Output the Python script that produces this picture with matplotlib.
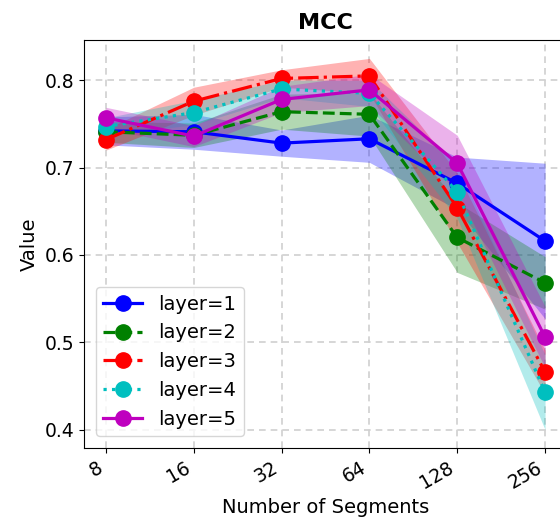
import matplotlib
matplotlib.use("Agg")
import matplotlib.pyplot as plt
import numpy as np

# Segment counts on the x axis
segments = ["8", "16", "32", "64", "128", "256"]

# Mean MCC per layer count
mcc_l1 = [0.742, 0.741, 0.728, 0.733, 0.682, 0.616]
mcc_l2 = [0.741, 0.737, 0.764, 0.761, 0.620, 0.568]
mcc_l3 = [0.732, 0.776, 0.802, 0.805, 0.654, 0.466]
mcc_l4 = [0.747, 0.763, 0.790, 0.785, 0.672, 0.443]
mcc_l5 = [0.757, 0.736, 0.778, 0.789, 0.705, 0.506]

# Spread around the mean (shaded band)
std_l1 = [0.016, 0.020, 0.015, 0.027, 0.030, 0.089]
std_l2 = [0.012, 0.014, 0.020, 0.025, 0.040, 0.030]
std_l3 = [0.012, 0.016, 0.010, 0.020, 0.040, 0.025]
std_l4 = [0.010, 0.014, 0.010, 0.015, 0.030, 0.043]
std_l5 = [0.012, 0.012, 0.015, 0.018, 0.032, 0.035]

series = [
    ("layer=1", mcc_l1, std_l1, "b", "-"),
    ("layer=2", mcc_l2, std_l2, "g", "--"),
    ("layer=3", mcc_l3, std_l3, "r", "-."),
    ("layer=4", mcc_l4, std_l4, "c", ":"),
    ("layer=5", mcc_l5, std_l5, "m", "-"),
]

fig = plt.figure(figsize=(5.6, 5.25), dpi=100)
ax = fig.add_axes([0.15, 0.1467, 0.8625, 0.777])

x = np.arange(len(segments))
for label, mean, std, color, ls in series:
    mean = np.array(mean)
    std = np.array(std)
    ax.fill_between(x, mean - std, mean + std, color=color, alpha=0.3, linewidth=0)
    ax.plot(x, mean, color=color, linestyle=ls, marker="o",
            markersize=11, linewidth=2.3, label=label)

ax.set_xticks(x)
ax.set_xticklabels(segments, rotation=30, ha="right", fontsize=13.5)
ax.tick_params(axis="y", labelsize=13.5)
ax.set_yticks([0.4, 0.5, 0.6, 0.7, 0.8])
ax.set_xlim(-0.25, 5.25)
ax.set_ylim(0.379, 0.846)
ax.grid(True, linestyle=(0, (4, 3)), color="#d0d0d0", linewidth=1.2)
ax.set_axisbelow(True)

ax.set_title("MCC", fontsize=16, fontweight="bold", pad=8)
ax.set_xlabel("Number of Segments", fontsize=14)
ax.set_ylabel("Value", fontsize=14)
ax.legend(loc="lower left", fontsize=14, borderaxespad=0.6)

fig.savefig("out.png", dpi=100)
